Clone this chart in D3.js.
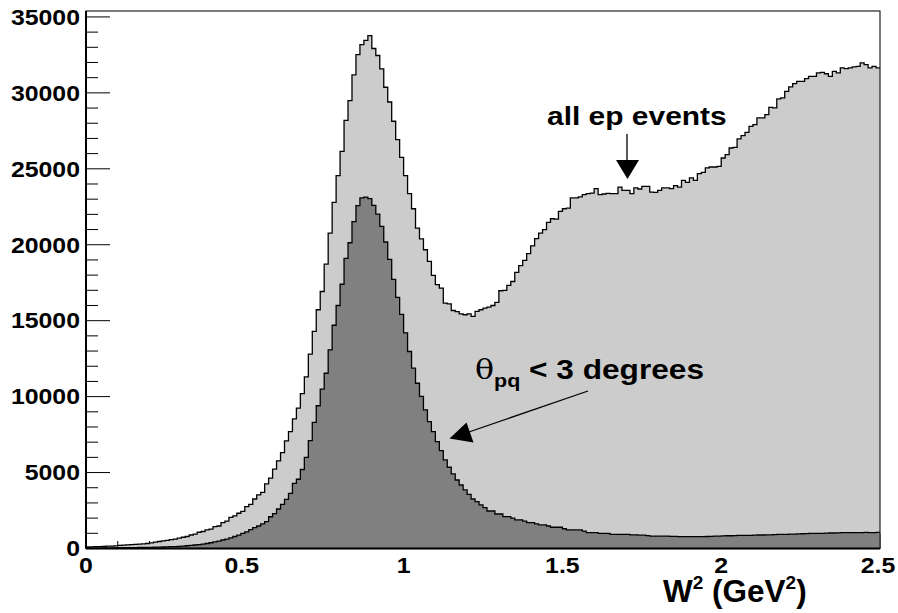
<!DOCTYPE html>
<html>
<head>
<meta charset="utf-8">
<script src="https://cdn.jsdelivr.net/npm/d3@7"></script>
<style>
html,body{margin:0;padding:0;background:#fff;}
svg{display:block;}
text{font-family:"Liberation Sans",Arial,Helvetica,sans-serif;font-weight:bold;fill:#000;}
</style>
</head>
<body>
<svg id="chart" width="898" height="613"></svg>
<script>
// ---- data ----
const binWidth = 0.0125;           // 200 bins from 0 to 2.5 (W^2 in GeV^2)
const allEvents = [
  100,110,120,130,140,150,160,170,
  200,220,240,260,270,290,310,330,
  370,420,460,500,540,580,620,680,
  740,790,890,950,1070,1120,1220,1280,
  1440,1480,1700,1800,2050,2150,2320,2450,
  2760,2900,3260,3530,3700,4250,4630,5220,
  5770,6310,7080,7700,8530,9240,10200,11300,
  12800,14290,15720,16920,18730,20770,22790,24550,
  26150,28190,29490,31180,32520,33180,33450,33770,
  32920,32460,31580,30370,29400,28130,26920,25750,
  24550,23360,22370,21100,20380,19670,18900,17980,
  17370,17150,16160,16110,15670,15600,15450,15390,
  15450,15280,15610,15720,15830,15890,16000,16200,
  16970,17000,17320,17580,18180,18620,18970,19410,
  19930,20400,20770,20990,21470,21710,21690,22200,
  22370,22410,23080,23080,23150,23300,23360,23400,
  23690,23300,23340,23380,23360,23360,23800,23580,
  23580,23360,23740,23670,23840,23840,23470,23450,
  23580,23740,23740,23690,23890,23800,24240,24110,
  24400,24240,24680,24770,25060,25120,25120,25160,
  25710,25930,26370,26410,26970,27180,27400,27800,
  27910,28350,28350,28570,29050,29010,29600,29670,
  30100,30390,30610,30760,30760,30940,31090,31090,
  31310,31350,31260,31090,31420,31310,31640,31600,
  31640,31710,31750,31970,31860,31640,31750,31640
];
const thetaCut = [
  20,25,30,30,35,40,40,45,
  50,50,55,60,60,65,70,75,
  80,90,95,100,110,120,130,140,
  160,180,200,230,260,290,330,380,
  430,480,560,620,700,790,880,990,
  1100,1240,1380,1480,1620,1770,2090,2300,
  2600,2900,3240,3630,4290,4560,5200,6000,
  7100,8300,9400,10500,11540,13080,14700,16000,
  17400,19100,20130,21520,22580,23080,23140,23030,
  22590,22020,21210,20180,19030,17720,16540,15420,
  14200,12970,11870,10880,10010,9130,8360,7700,
  7040,6450,5830,5350,4910,4510,4180,3860,
  3570,3260,3090,2870,2690,2470,2470,2270,
  2270,2100,2100,2000,1880,1880,1800,1700,
  1700,1620,1550,1550,1480,1400,1400,1400,
  1300,1220,1220,1220,1220,1150,1040,1040,
  1040,1000,1000,1000,930,930,930,930,
  930,900,900,880,880,850,820,820,
  820,820,820,800,800,780,780,780,
  780,780,780,780,790,800,820,820,
  830,840,840,850,860,870,870,870,
  880,890,890,900,900,920,930,930,
  930,940,950,960,970,980,990,1000,
  1000,1000,1010,1020,1020,1030,1040,1040,
  1040,1040,1050,1050,1060,1040,1050,1060
];
const xTickLabels = ["0","0.5","1","1.5","2","2.5"];
const xTickValues = [0,0.5,1,1.5,2,2.5];
const yTickValues = [0,5000,10000,15000,20000,25000,30000,35000];
const xDomain = [0,2.5];
const yDomain = [0,35390];

// ---- layout ----
const svg = d3.select("#chart");
const L = 86, R = 880, T = 11, B = 548.5;
const x = d3.scaleLinear().domain(xDomain).range([L,R]);
const y = d3.scaleLinear().domain(yDomain).range([B,T]);
const SX = 1.13; // horizontal stretch of the original fonts

function label(g, tx, ty, str, size, anchor){
  return g.append("text")
    .attr("transform", `translate(${tx},${ty}) scale(${SX},1)`)
    .attr("font-size", size)
    .attr("text-anchor", anchor || "start")
    .text(str);
}

// x ticks (drawn under histograms)
const xMinor = d3.range(0, 2.5001, 0.1);
svg.append("g").selectAll("line").data(xMinor).join("line")
  .attr("x1", d=>x(d)).attr("x2", d=>x(d))
  .attr("y1", B).attr("y2", d => B - (Math.abs(d*2-Math.round(d*2))<1e-6 ? 15 : 7.5))
  .attr("stroke","#000").attr("stroke-width",1);

// histograms
function pts(arr){
  const p = arr.map((v,i)=>[i*binWidth, v]);
  p.push([arr.length*binWidth, arr[arr.length-1]]);
  return p;
}
const area = d3.area().x(d=>x(d[0])).y0(B).y1(d=>y(d[1])).curve(d3.curveStepAfter);
const line = d3.line().x(d=>x(d[0])).y(d=>y(d[1])).curve(d3.curveStepAfter);

svg.append("path").datum(pts(allEvents)).attr("d", area).attr("fill","#cccccc");
svg.append("path").datum(pts(allEvents)).attr("d", line).attr("fill","none").attr("stroke","#000").attr("stroke-width",1.3);
svg.append("path").datum(pts(thetaCut)).attr("d", area).attr("fill","#808080");
svg.append("path").datum(pts(thetaCut)).attr("d", line).attr("fill","none").attr("stroke","#000").attr("stroke-width",1.3);

// y ticks
const yMinor = d3.range(0, 35001, 1000);
svg.append("g").selectAll("line").data(yMinor).join("line")
  .attr("x1", L).attr("x2", d => L + (d%5000===0 ? 24 : 12))
  .attr("y1", d=>y(d)).attr("y2", d=>y(d))
  .attr("stroke","#000").attr("stroke-width",1);

// frame
svg.append("rect").attr("x",L).attr("y",T).attr("width",R-L).attr("height",B-T)
  .attr("fill","none").attr("stroke","#222").attr("stroke-width",1.2);
svg.append("line").attr("x1",L).attr("x2",L).attr("y1",T).attr("y2",B).attr("stroke","#000").attr("stroke-width",2);
svg.append("line").attr("x1",L).attr("x2",R).attr("y1",B).attr("y2",B).attr("stroke","#000").attr("stroke-width",2);

// tick labels
const gl = svg.append("g");
yTickValues.forEach(v => label(gl, 80, y(v)+7.8, String(v), 22, "end"));
xTickValues.forEach((v,i) => label(gl, x(v) - (v===2.5?2:(v===0.5?3:0)), 573, xTickLabels[i], 22, "middle"));

// axis title
const tt = svg.append("text").attr("transform",`translate(663,602)`).attr("font-size",31.5);
tt.append("tspan").text("W");
tt.append("tspan").attr("font-size",19).attr("dy",-13).text("2");
tt.append("tspan").attr("dy",13).text(" (GeV");
tt.append("tspan").attr("font-size",19).attr("dy",-13).text("2");
tt.append("tspan").attr("dy",13).text(")");

// annotations
label(svg, 547, 125, "all ep events", 26.5, "start");
svg.append("line").attr("x1",627).attr("x2",627).attr("y1",134).attr("y2",162).attr("stroke","#000").attr("stroke-width",1.3);
svg.append("path").attr("d","M616,160 L639,160 L627.5,179 Z").attr("fill","#000");

const th = svg.append("text").attr("transform",`translate(475,379) scale(${SX},1)`).attr("font-size",28);
th.append("tspan").attr("font-family","'DejaVu Serif','Liberation Serif',serif").attr("font-weight","normal").text("θ");
th.append("tspan").attr("font-size",19).attr("dy",8).text("pq");
th.append("tspan").attr("dy",-8).text(" < 3 degrees");

svg.append("line").attr("x1",588).attr("y1",391).attr("x2",466).attr("y2",433).attr("stroke","#000").attr("stroke-width",1.3);
svg.append("path").attr("d","M449.5,438.5 L466.5,422.5 L473.5,442.5 Z").attr("fill","#000");
</script>
</body>
</html>
